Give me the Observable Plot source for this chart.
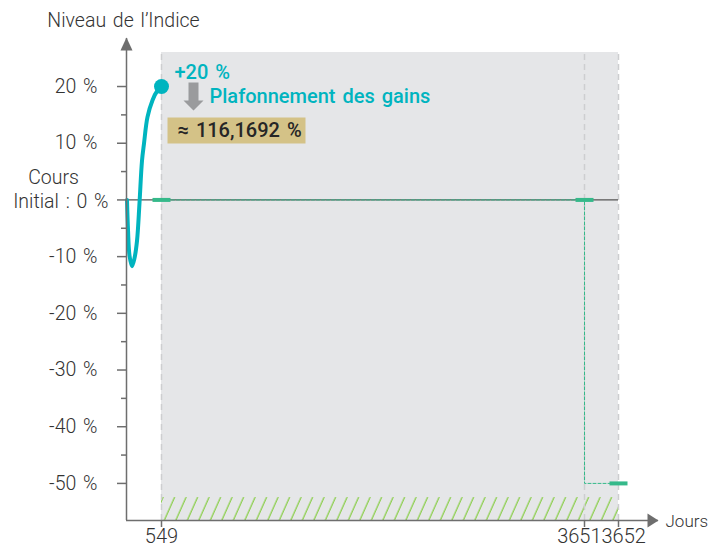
<!DOCTYPE html>
<html><head><meta charset="utf-8">
<script src="https://cdn.jsdelivr.net/npm/d3@7"></script>
<script src="https://cdn.jsdelivr.net/npm/@observablehq/plot@0.6"></script>
<style>
body{margin:0;background:#fff;}
#chart svg{display:block;}
</style>
</head><body><div id="chart"></div>
<script>
// ---- data ----
const curveDays   = [8, 24, 47, 86, 125, 165, 204, 243, 275, 329, 408, 486, 549];
const curveLevels = [0, -5.4, -9.8, -11.7, -10.3, -7.2, -0.5, 6.9, 10.0, 14.6, 17.6, 19.3, 20];
const capDay = 549, capLevel = 20;
const eventDays = [549, 3651, 3652];
const eventLevels = [0, 0, -50];
const xTickLabels = ["549", "3651", "3652"];
const yMajorTicks = [20, 10, 0, -10, -20, -30, -40, -50];
const yMinorTicks = [15, 5, -5, -15, -25, -35, -45];
const zoneTop = 26;
const barrierTop = -52.5;
const yDomain = [-56.54, 28.47];
const xDomain = [0, 549, 3651, 3652, 3700];
const titleText = "Niveau de l’Indice";
const xTitle = "Jours";
const zeroLabel1 = "Cours", zeroLabel2 = "Initial : 0 %";
const capText = "+20 %", capTitle = "Plafonnement des gains", capValue = "≈ 116,1692 %";

const curve = curveDays.map((d, i) => ({day: d, level: curveLevels[i]}));
const events = eventDays.map((d, i) => ({day: d, level: eventLevels[i]}));
const path = [events[0], events[1], {day: eventDays[1], level: eventLevels[2]}, events[2]];

const teal = "#00b4bf", green = "#35b98a", axisC = "#6e6e6e", txt = "#333";
const F = "Roboto, 'Noto Sans', sans-serif";
const LS = 19.5; // light text size

const hbar = {draw(c){ c.rect(-9, -2, 18, 4); }};
const arrowUp = {draw(c){ c.moveTo(0,0); c.lineTo(6,13); c.lineTo(-6,13); c.closePath(); }};
const arrowRight = {draw(c){ c.moveTo(0,0); c.lineTo(-11,-7); c.lineTo(-11,7); c.closePath(); }};
const arrowDown = {draw(c){ c.rect(-5,-14,10,18); c.moveTo(-10,4); c.lineTo(10,4); c.lineTo(0,14); c.closePath(); }};
const box = {draw(c){ c.rect(-69,-13,138,26); }};

const cap = [{day: capDay, level: capLevel}];
const light = {fontSize: LS, fontWeight: 300, fill: txt, lineAnchor: "middle"};

const chart = Plot.plot({
  width: 710, height: 548,
  marginLeft: 126, marginRight: 52, marginTop: 38, marginBottom: 28,
  style: {fontFamily: F, fontSize: "18px", color: txt, background: "#fff", wordSpacing: "2px"},
  x: {type: "linear", domain: xDomain, range: [126, 161, 584, 618, 658]},
  y: {domain: yDomain},
  marks: [
    Plot.rect([0], {x1: eventDays[0], x2: eventDays[2], y1: yDomain[0], y2: zoneTop, fill: "#e5e6e8"}),
    Plot.rect([0], {x1: eventDays[0], x2: eventDays[2], y1: yDomain[0], y2: barrierTop, fill: "url(#hatch)"}),
    Plot.ruleX(eventDays, {y1: yDomain[0], y2: zoneTop, stroke: "#cdced0", strokeWidth: 1.5, strokeDasharray: "6,4"}),
    Plot.ruleY([0], {x1: 0, x2: eventDays[2], stroke: "#555", strokeWidth: 1.3}),
    Plot.line(path, {x: "day", y: "level", stroke: green, strokeWidth: 1, strokeDasharray: "3,2"}),
    Plot.dot(events, {x: "day", y: "level", symbol: hbar, fill: green, stroke: null}),
    Plot.line(curve, {x: "day", y: "level", stroke: teal, strokeWidth: 4, curve: "catmull-rom"}),
    Plot.dot(cap, {x: "day", y: "level", r: 7.5, fill: teal}),
    // axes
    Plot.ruleX([0], {stroke: axisC, strokeWidth: 1.5}),
    Plot.ruleY([yDomain[0]], {stroke: axisC, strokeWidth: 1.5}),
    Plot.dot([0], {x: 0, y: yDomain[1], symbol: arrowUp, fill: axisC, stroke: null, dy: -1}),
    Plot.dot([0], {x: xDomain[4], y: yDomain[0], symbol: arrowRight, fill: axisC, stroke: null}),
    Plot.axisY({ticks: yMajorTicks, tickSize: 9, tickPadding: 20, tickFormat: d => d === 0 ? "" : `${d} %`, stroke: axisC, strokeWidth: 1.5, fontSize: LS, fill: txt, fontWeight: 300, label: null}),
    Plot.axisY({ticks: yMinorTicks, tickSize: 5, tickFormat: () => "", stroke: axisC, strokeWidth: 1.5, label: null}),
    Plot.axisX({ticks: eventDays, tickSize: 7, tickFormat: () => "", stroke: axisC, strokeWidth: 1.5, label: null}),
    Plot.text([xTickLabels[0]], {x: eventDays[0], frameAnchor: "bottom", dy: 16, text: d => d, ...light, fontSize: 20}),
    Plot.text([xTickLabels[1]], {x: eventDays[1], frameAnchor: "bottom", dy: 16, dx: 17, textAnchor: "end", text: d => d, ...light, fontSize: 20}),
    Plot.text([xTickLabels[2]], {x: eventDays[2], frameAnchor: "bottom", dy: 16, dx: -17, textAnchor: "start", text: d => d, ...light, fontSize: 20}),
    Plot.text([zeroLabel2], {x: 0, y: 0, text: d => d, textAnchor: "end", dx: -18, dy: 2, ...light}),
    Plot.text([zeroLabel1], {x: 0, y: 0, text: d => d, textAnchor: "middle", dx: -73, dy: -22, ...light}),
    Plot.text([titleText], {frameAnchor: "top-left", text: d => d, textAnchor: "middle", dx: -3, dy: -18, ...light}),
    Plot.text([xTitle], {frameAnchor: "bottom-right", text: d => d, textAnchor: "start", dx: 7, dy: 1, ...light, fontSize: 17}),
    // annotation
    Plot.dot(cap, {x: "day", y: "level", symbol: arrowDown, fill: "#9a9b9d", stroke: null, dx: 32, dy: 10}),
    Plot.dot(cap, {x: "day", y: "level", symbol: box, fill: "#d4c287", stroke: null, dx: 75, dy: 44}),
    Plot.text([capText], {x: capDay, y: capLevel, text: d => d, textAnchor: "start", dx: 13, dy: -14, fontSize: 20, fontWeight: 500, fill: teal}),
    Plot.text([capTitle], {x: capDay, y: capLevel, text: d => d, textAnchor: "start", dx: 48, dy: 10, fontSize: 20, fontWeight: 500, fill: teal}),
    Plot.text([capValue], {x: capDay, y: capLevel, text: d => d, textAnchor: "start", dx: 16, dy: 44, fontSize: 20, fontWeight: 500, fill: "#262626"})
  ]
});

d3.select(chart).insert("defs", ":first-child").html(
  '<pattern id="hatch" patternUnits="userSpaceOnUse" width="11.5" height="12" patternTransform="skewX(-24)">' +
  '<line x1="5" y1="-1" x2="5" y2="13" stroke="#8ccf4d" stroke-width="1.4"/></pattern>');

document.getElementById("chart").appendChild(chart);
</script></body></html>
